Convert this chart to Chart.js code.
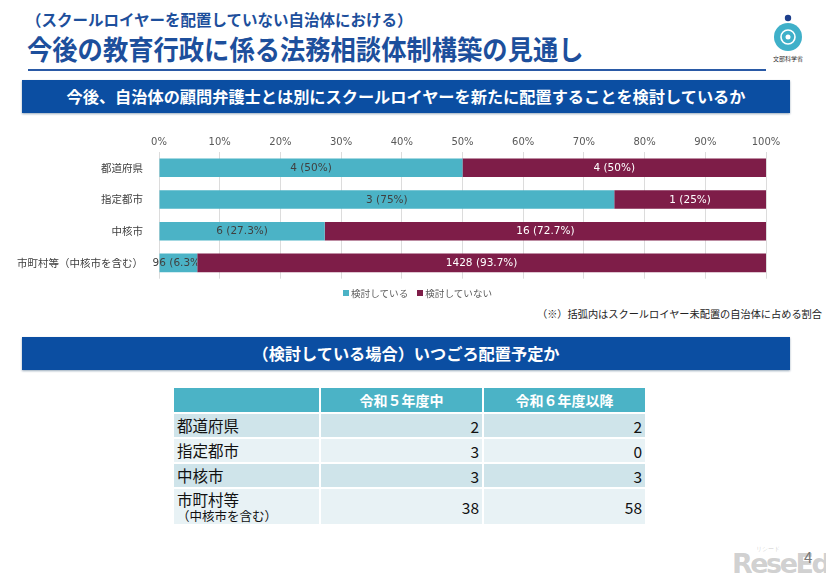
<!DOCTYPE html>
<html>
<head>
<meta charset="utf-8">
<script src="https://cdn.jsdelivr.net/npm/chart.js@4.4.1/dist/chart.umd.min.js"></script>
<style>
  body { margin: 0; width: 826px; height: 584px; background: #fff; position: relative; overflow: hidden;
         font-family: "Noto Sans CJK JP", "Noto Sans", sans-serif; }
  .abs { position: absolute; }
  #sub { left: 26px; top: 8px; font-size: 15.5px; font-weight: bold; color: #1d4f9c; white-space: nowrap; }
  #title { left: 27px; top: 29px; font-size: 25.3px; font-weight: bold; color: #1d4f9c; white-space: nowrap;
           transform: scaleY(1.08); transform-origin: left top; }
  #rule { left: 28px; top: 69px; width: 738px; height: 2px; background: #2a5aa6; }
  .banner { left: 22px; width: 768px; height: 33px; background: #0b4ea2; color: #fff; font-weight: bold;
            font-size: 16.2px; text-align: center; line-height: 33px; box-shadow: 0 1px 2px #9ab; }
  #legend { left: 343px; top: 286px; font-size: 9.6px; color: #595959; white-space: nowrap; }
  #legend span.sw { display: inline-block; width: 6px; height: 6px; margin-right: 2px; vertical-align: 1px; }
  #note { left: 537px; top: 306px; font-size: 10.2px; color: #222; white-space: nowrap; }
  table { position: absolute; left: 172px; top: 386px; border-collapse: collapse; font-size: 15.5px; color: #111; }
  td, th { border: 2px solid #fff; padding: 0 3px; }
  th { background: #4bb3c6; color: #fff; height: 24px; font-size: 14px; }
  td.num { text-align: right; }
  #page { left: 804px; top: 546px; font-size: 15px; color: #777; }
  #wm { left: 732px; top: 548px; font-size: 27px; font-weight: bold; color: rgba(150,150,150,0.45); font-family: "DejaVu Sans", sans-serif; letter-spacing: -2.5px; }
  #wm small { position: absolute; left: 24px; top: -3px; font-size: 6px; letter-spacing: 0; font-weight: normal; }
</style>
</head>
<body>
<div class="abs" id="sub">（スクールロイヤーを配置していない自治体における）</div>
<div class="abs" id="title">今後の教育行政に係る法務相談体制構築の見通し</div>
<div class="abs" id="rule"></div>
<svg class="abs" style="left:768px;top:10px" width="40" height="56">
  <circle cx="20" cy="8" r="3.2" fill="#1d3f8c"/>
  <circle cx="20" cy="27" r="14" fill="#3fb0c9"/>
  <circle cx="20" cy="27" r="7" fill="none" stroke="#fff" stroke-width="1.6"/>
  <circle cx="20" cy="27" r="2.5" fill="#fff"/>
  <text x="20" y="51" font-size="6" text-anchor="middle" fill="#333">文部科学省</text>
</svg>
<div class="abs banner" style="top:80px">今後、自治体の顧問弁護士とは別にスクールロイヤーを新たに配置することを検討しているか</div>
<div class="abs" style="left:0;top:128px;width:800px;height:165px">
  <canvas id="chart" width="800" height="165"></canvas>
</div>
<div class="abs" id="legend"></div>
<div class="abs" id="note">（※）括弧内はスクールロイヤー未配置の自治体に占める割合</div>
<div class="abs banner" style="top:337px">（検討している場合）いつごろ配置予定か</div>
<table id="tbl"></table>
<div class="abs" id="wm"><small>リシード</small>ReseEd</div>
<div class="abs" id="page">4</div>

<script>
// chart data
const categories = ['都道府県', '指定都市', '中核市', '市町村等（中核市を含む）'];
const seriesNames = ['検討している', '検討していない'];
const yesPct = [50, 75, 27.3, 6.3];
const noPct = [50, 25, 72.7, 93.7];
const yesCount = [4, 3, 6, 96];
const noCount = [4, 1, 16, 1428];
const xTicks = [0, 10, 20, 30, 40, 50, 60, 70, 80, 90, 100];

// table data
const tableCols = ['令和５年度中', '令和６年度以降'];
const tableRows = ['都道府県', '指定都市', '中核市', '市町村等'];
const plannedR5 = [2, 3, 3, 38];
const plannedR6 = [2, 0, 3, 58];

const teal = '#4bb3c6';
const maroon = '#7e1d48';

// labels like "4 (50%)" in the middle of each segment
// first series text is cut off where the next segment starts (as in the original)
const segLabels = {
    id: 'segLabels',
    afterDatasetsDraw(chart) {
        const c = chart.ctx;
        chart.data.datasets.forEach(function (ds, di) {
            const meta = chart.getDatasetMeta(di);
            meta.data.forEach(function (bar, i) {
                const mid = (bar.x + bar.base) / 2;
                c.save();
                if (di === 0) {
                    c.beginPath();
                    c.rect(0, bar.y - 15, bar.x, 30);
                    c.clip();
                }
                c.font = '10.5px "DejaVu Sans", sans-serif';
                c.textAlign = 'center';
                c.textBaseline = 'middle';
                c.fillStyle = ds.labelColor;
                c.fillText(ds.counts[i] + ' (' + ds.data[i] + '%)', mid, bar.y + 0.5);
                c.restore();
            });
        });
    }
};

new Chart(document.getElementById('chart'), {
    type: 'bar',
    data: {
        labels: categories,
        datasets: [
            { label: seriesNames[0], data: yesPct, counts: yesCount, backgroundColor: teal, labelColor: '#404040' },
            { label: seriesNames[1], data: noPct, counts: noCount, backgroundColor: maroon, labelColor: '#ffffff' }
        ]
    },
    options: {
        indexAxis: 'y',
        responsive: false,
        animation: false,
        barPercentage: 0.9,
        categoryPercentage: 0.65,
        layout: { padding: { left: 0, right: 34, top: 4, bottom: 0 } },
        plugins: { legend: { display: false }, tooltip: { enabled: false } },
        scales: {
            x: {
                position: 'top',
                stacked: true,
                min: 0, max: 100,
                afterBuildTicks: function (s) { s.ticks = xTicks.map(function (v) { return { value: v }; }); },
                ticks: {
                    color: '#595959', padding: 4,
                    font: { family: '"DejaVu Sans", sans-serif', size: 10 },
                    callback: function (v) { return v + '%'; }
                },
                grid: { color: '#dcdcdc', drawTicks: false },
                border: { display: false }
            },
            y: {
                stacked: true,
                afterFit: function (s) { s.width = 159; },
                ticks: { color: '#404040', padding: 8, font: { family: '"Noto Sans CJK JP", sans-serif', size: 10.5 } },
                grid: { display: false },
                border: { display: false }
            }
        }
    },
    plugins: [segLabels]
});

// legend
const lg = document.getElementById('legend');
lg.innerHTML = '<span class="sw" style="background:' + teal + '"></span>' + seriesNames[0] +
    '<span style="display:inline-block;width:9px"></span>' +
    '<span class="sw" style="background:' + maroon + '"></span>' + seriesNames[1];

// table
const tbl = document.getElementById('tbl');
let html = '<tr><th style="width:139px"></th><th style="width:155px">' + tableCols[0] + '</th><th style="width:155px">' + tableCols[1] + '</th></tr>';
tableRows.forEach(function (name, i) {
    const bg = i % 2 === 0 ? '#cfe4ea' : '#e8f2f5';
    const tall = i === tableRows.length - 1;
    const label = tall ? name + '<div style="font-size:12.5px;line-height:14px">（中核市を含む）</div>' : name;
    const h = tall ? 37 : 25;
    html += '<tr style="background:' + bg + ';height:' + h + 'px"><td style="line-height:' + (tall ? 19 : 23) + 'px">' + label +
        '</td><td class="num">' + plannedR5[i] + '</td><td class="num">' + plannedR6[i] + '</td></tr>';
});
tbl.innerHTML = html;
</script>
</body>
</html>
